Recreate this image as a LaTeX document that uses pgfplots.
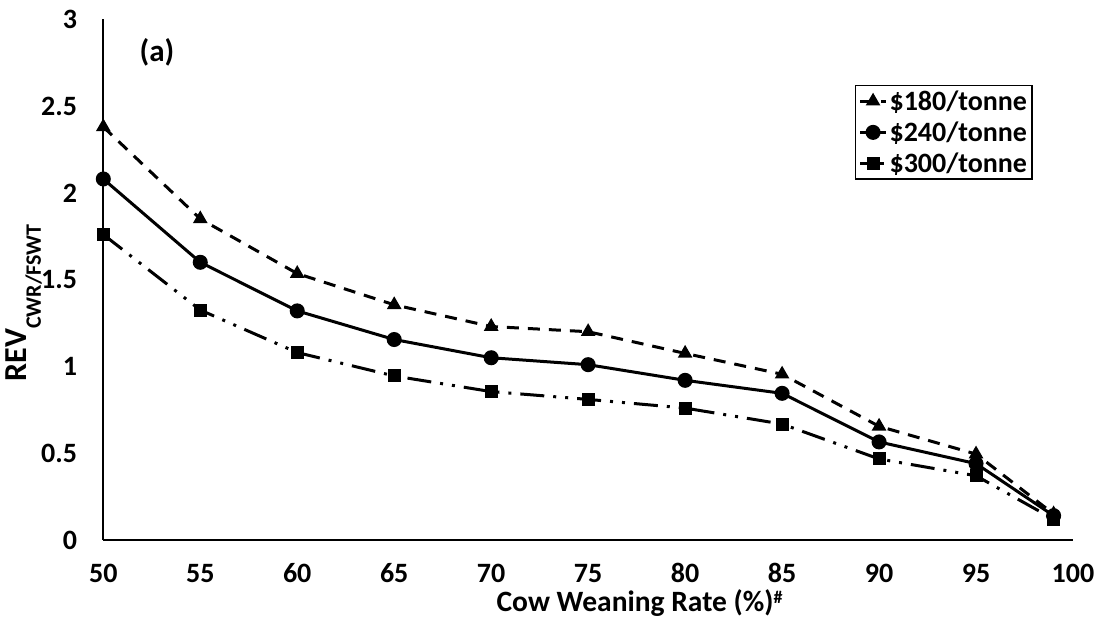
\documentclass[border=0pt]{standalone}
\usepackage{fontspec}
\setmainfont{Carlito}
\usepackage{pgfplots}
\pgfplotsset{compat=1.18}

\pgfplotstableread{
x y
50 2.38
55 1.85
60 1.535
65 1.355
70 1.23
75 1.20
80 1.075
85 0.955
90 0.655
95 0.495
99 0.15
}\tA
\pgfplotstableread{
x y
50 2.08
55 1.60
60 1.32
65 1.155
70 1.05
75 1.01
80 0.92
85 0.845
90 0.565
95 0.44
99 0.14
}\tB
\pgfplotstableread{
x y
50 1.76
55 1.325
60 1.08
65 0.945
70 0.855
75 0.81
80 0.76
85 0.668
90 0.467
95 0.37
99 0.12
}\tC

\begin{document}
\begin{tikzpicture}
\path[use as bounding box] (-103.3pt,-80pt) rectangle (1002.7pt,540pt);
\begin{axis}[
  at={(0pt,0pt)}, anchor=south west,
  scale only axis, width=969.7pt, height=520.7pt,
  xmin=50, xmax=100, ymin=0, ymax=3,
  xtick={50,55,...,100},
  ytick={0,0.5,1,1.5,2,2.5,3},
  yticklabels={0,0.5,1,1.5,2,2.5,3},
  axis x line*=bottom, axis y line*=left,
  axis line style={line width=1.8pt, -},
  major tick length=0pt,
  clip=false,
  /pgf/number format/assume math mode=true,
  ticklabel style={font=\fontsize{28}{28}\selectfont\bfseries},
  yticklabel style={anchor=east, inner sep=0pt, xshift=-26pt},
  xticklabel style={anchor=base, inner sep=0pt, yshift=-43pt},
  xlabel={Cow Weaning Rate (\%)\raisebox{0.3em}{\fontsize{18}{18}\selectfont\#}},
  xlabel style={at={(axis description cs:0.553,0)}, anchor=base, yshift=-72pt, inner sep=0pt, font=\fontsize{29.5}{29.5}\selectfont\bfseries},
  ylabel={REV\raisebox{-14pt}{\fontsize{22}{22}\selectfont CWR/FSWT}},
  ylabel style={at={(axis description cs:-0.0787,0.455)}, anchor=base, inner sep=0pt, font=\fontsize{32}{32}\selectfont\bfseries},
  legend style={at={(rel axis cs:0.775,0.874)}, anchor=north west, draw=black, line width=1.5pt,
    font=\fontsize{28}{28}\selectfont\bfseries, inner sep=3pt, row sep=6pt,
    legend cell align=left},
  legend image code/.code={\draw[mark repeat=2,mark phase=2,#1] plot coordinates {(0pt,0pt)(13pt,0pt)(26pt,0pt)};},
]
\addplot[black, line width=3pt, dash pattern=on 12pt off 9pt, mark=triangle*, mark size=5.5pt, mark options={solid}] table[x=x,y=y]{\tA};
\addlegendentry{\$180/tonne}
\addplot[black, line width=3pt, solid, mark=*, mark size=6pt, mark options={solid}] table[x=x,y=y]{\tB};
\addlegendentry{\$240/tonne}
\addplot[black, line width=3pt, dash pattern=on 24pt off 9pt on 3pt off 9pt on 3pt off 9pt, mark=square*, mark size=5pt, mark options={solid}] table[x=x,y=y]{\tC};
\addlegendentry{\$300/tonne}
\node[font=\fontsize{31}{31}\selectfont\bfseries] at (axis description cs:0.0554,0.937) {(a)};
\end{axis}
\end{tikzpicture}
\end{document}
